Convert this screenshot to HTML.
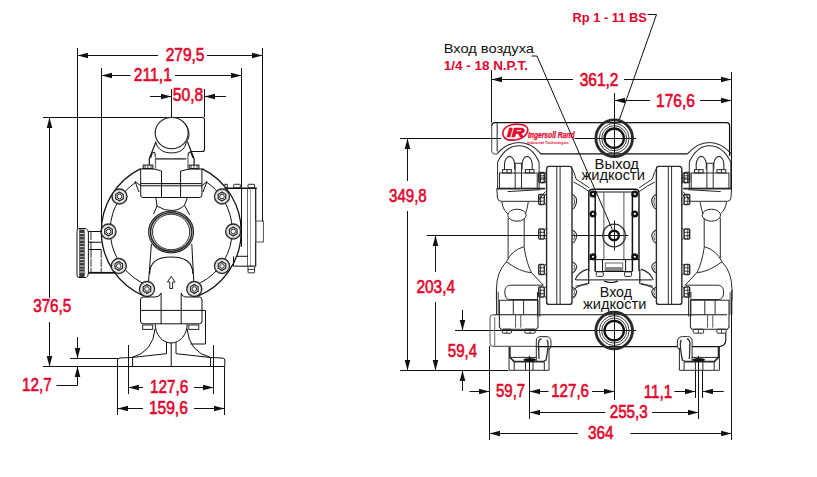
<!DOCTYPE html>
<html><head><meta charset="utf-8"><style>
html,body{margin:0;padding:0;background:#fff;overflow:hidden}
svg{display:block}
text{font-family:"Liberation Sans",sans-serif}
</style></head><body>
<svg width="817" height="477" viewBox="0 0 817 477" shape-rendering="auto">
<rect width="817" height="477" fill="#fff"/>
<line x1="77.5" y1="48" x2="77.5" y2="228.5" stroke="#111" stroke-width="1"/>
<line x1="262.5" y1="48" x2="262.5" y2="221.6" stroke="#111" stroke-width="1"/>
<line x1="77.5" y1="55.5" x2="158" y2="55.5" stroke="#111" stroke-width="1"/>
<line x1="207" y1="55.5" x2="262.5" y2="55.5" stroke="#111" stroke-width="1"/>
<polygon points="77.5,55.5 88.0,52.7 88.0,58.3" fill="#111"/>
<polygon points="262.5,55.5 252.0,52.7 252.0,58.3" fill="#111"/>
<text x="165.70000000000002" y="60.7" font-size="19.00" fill="#e2062c" stroke="#e2062c" stroke-width="0.65" textLength="38.8" lengthAdjust="spacingAndGlyphs">279,5</text>
<line x1="101.5" y1="68" x2="101.5" y2="226" stroke="#111" stroke-width="1"/>
<line x1="241.5" y1="68" x2="241.5" y2="247" stroke="#111" stroke-width="1"/>
<line x1="101.5" y1="75.5" x2="130.5" y2="75.5" stroke="#111" stroke-width="1"/>
<line x1="175" y1="75.5" x2="241.5" y2="75.5" stroke="#111" stroke-width="1"/>
<polygon points="101.5,75.5 112.0,72.7 112.0,78.3" fill="#111"/>
<polygon points="241.5,75.5 231.0,72.7 231.0,78.3" fill="#111"/>
<text x="133.8" y="80.9" font-size="19.00" fill="#e2062c" stroke="#e2062c" stroke-width="0.65" textLength="38.1" lengthAdjust="spacingAndGlyphs">211,1</text>
<line x1="171.5" y1="89" x2="171.5" y2="117" stroke="#111" stroke-width="1"/>
<line x1="204.5" y1="89" x2="204.5" y2="117" stroke="#111" stroke-width="1"/>
<line x1="150" y1="96.5" x2="171.5" y2="96.5" stroke="#111" stroke-width="1"/>
<line x1="204.5" y1="96.5" x2="226" y2="96.5" stroke="#111" stroke-width="1"/>
<polygon points="171.5,96.5 161.0,93.7 161.0,99.3" fill="#111"/>
<polygon points="204.5,96.5 215.0,93.7 215.0,99.3" fill="#111"/>
<text x="172.8" y="101" font-size="19.00" fill="#e2062c" stroke="#e2062c" stroke-width="0.65" textLength="30.4" lengthAdjust="spacingAndGlyphs">50,8</text>
<line x1="43" y1="117.5" x2="172" y2="117.5" stroke="#111" stroke-width="1"/>
<line x1="49.5" y1="117.5" x2="49.5" y2="298" stroke="#111" stroke-width="1"/>
<line x1="49.5" y1="322" x2="49.5" y2="366" stroke="#111" stroke-width="1"/>
<polygon points="49.5,117.5 46.7,128.0 52.3,128.0" fill="#111"/>
<polygon points="49.5,366.5 46.7,356.0 52.3,356.0" fill="#111"/>
<text x="33.199999999999996" y="312.3" font-size="19.00" fill="#e2062c" stroke="#e2062c" stroke-width="0.65" textLength="38.1" lengthAdjust="spacingAndGlyphs">376,5</text>
<line x1="43" y1="366.5" x2="118" y2="366.5" stroke="#111" stroke-width="1"/>
<line x1="70" y1="358.5" x2="118" y2="358.5" stroke="#111" stroke-width="1"/>
<line x1="77.5" y1="337" x2="77.5" y2="358.5" stroke="#111" stroke-width="1"/>
<polygon points="77.5,358.5 74.7,348.0 80.3,348.0" fill="#111"/>
<polyline points="77.5,367 77.5,385.5 56.5,385.5" stroke="#111" stroke-width="1" fill="none"/>
<polygon points="77.5,366.5 74.7,377.0 80.3,377.0" fill="#111"/>
<text x="22.0" y="390.6" font-size="19.00" fill="#e2062c" stroke="#e2062c" stroke-width="0.65" textLength="29.7" lengthAdjust="spacingAndGlyphs">12,7</text>
<line x1="128.5" y1="345" x2="128.5" y2="394" stroke="#111" stroke-width="1"/>
<line x1="213.5" y1="345" x2="213.5" y2="394" stroke="#111" stroke-width="1"/>
<line x1="128.5" y1="387.5" x2="143" y2="387.5" stroke="#111" stroke-width="1"/>
<line x1="194" y1="387.5" x2="213.5" y2="387.5" stroke="#111" stroke-width="1"/>
<polygon points="128.5,387.5 139.0,384.7 139.0,390.3" fill="#111"/>
<polygon points="213.5,387.5 203.0,384.7 203.0,390.3" fill="#111"/>
<text x="149.9" y="393.2" font-size="19.00" fill="#e2062c" stroke="#e2062c" stroke-width="0.65" textLength="38.4" lengthAdjust="spacingAndGlyphs">127,6</text>
<line x1="117.5" y1="367" x2="117.5" y2="415" stroke="#111" stroke-width="1"/>
<line x1="224.5" y1="367" x2="224.5" y2="415" stroke="#111" stroke-width="1"/>
<line x1="117.5" y1="408.5" x2="143" y2="408.5" stroke="#111" stroke-width="1"/>
<line x1="194" y1="408.5" x2="224.5" y2="408.5" stroke="#111" stroke-width="1"/>
<polygon points="117.5,408.5 128.0,405.7 128.0,411.3" fill="#111"/>
<polygon points="224.5,408.5 214.0,405.7 214.0,411.3" fill="#111"/>
<text x="148.9" y="413.8" font-size="19.00" fill="#e2062c" stroke="#e2062c" stroke-width="0.65" textLength="38.9" lengthAdjust="spacingAndGlyphs">159,6</text>
<text x="572.5" y="21.6" font-size="13" font-weight="bold" fill="#e2062c" textLength="74.4" lengthAdjust="spacingAndGlyphs">Rp 1 - 11 BS</text>
<polyline points="647.5,14.5 656.5,14.5 618.5,122" stroke="#111" stroke-width="1" fill="none"/>
<text x="443.7" y="52.6" font-size="13.5" fill="#111" textLength="90.3" lengthAdjust="spacingAndGlyphs">Вход воздуха</text>
<text x="443.7" y="69.5" font-size="13.5" font-weight="bold" fill="#e2062c" textLength="84.4" lengthAdjust="spacingAndGlyphs">1/4 - 18 N.P.T.</text>
<polyline points="531.4,56 537,56 612.4,229.5" stroke="#111" stroke-width="1" fill="none"/>
<line x1="491.5" y1="70" x2="491.5" y2="122.5" stroke="#111" stroke-width="1"/>
<line x1="731.5" y1="72" x2="731.5" y2="190" stroke="#111" stroke-width="1"/>
<line x1="731.5" y1="297" x2="731.5" y2="440" stroke="#111" stroke-width="1"/>
<line x1="491.5" y1="79.5" x2="573" y2="79.5" stroke="#111" stroke-width="1"/>
<line x1="624" y1="79.5" x2="731.5" y2="79.5" stroke="#111" stroke-width="1"/>
<polygon points="491.5,79.5 502.0,76.7 502.0,82.3" fill="#111"/>
<polygon points="731.5,79.5 721.0,76.7 721.0,82.3" fill="#111"/>
<text x="579.6999999999999" y="86.4" font-size="19.00" fill="#e2062c" stroke="#e2062c" stroke-width="0.65" textLength="38.8" lengthAdjust="spacingAndGlyphs">361,2</text>
<line x1="614.5" y1="93" x2="614.5" y2="152" stroke="#111" stroke-width="1"/>
<line x1="614.5" y1="312" x2="614.5" y2="400" stroke="#111" stroke-width="1"/>
<line x1="614.5" y1="100.5" x2="650" y2="100.5" stroke="#111" stroke-width="1"/>
<line x1="700" y1="100.5" x2="731.5" y2="100.5" stroke="#111" stroke-width="1"/>
<polygon points="614.5,100.5 625.0,97.7 625.0,103.3" fill="#111"/>
<polygon points="731.5,100.5 721.0,97.7 721.0,103.3" fill="#111"/>
<text x="656.0999999999999" y="107" font-size="19.00" fill="#e2062c" stroke="#e2062c" stroke-width="0.65" textLength="38.8" lengthAdjust="spacingAndGlyphs">176,6</text>
<line x1="400" y1="138.5" x2="501" y2="138.5" stroke="#111" stroke-width="1"/>
<line x1="574.5" y1="138.5" x2="636" y2="138.5" stroke="#111" stroke-width="1"/>
<line x1="407.5" y1="138.5" x2="407.5" y2="181" stroke="#111" stroke-width="1"/>
<line x1="407.5" y1="211" x2="407.5" y2="370" stroke="#111" stroke-width="1"/>
<polygon points="407.5,138.5 404.7,149.0 410.3,149.0" fill="#111"/>
<polygon points="407.5,370.5 404.7,360.0 410.3,360.0" fill="#111"/>
<text x="389.1" y="201.6" font-size="19.00" fill="#e2062c" stroke="#e2062c" stroke-width="0.65" textLength="37.6" lengthAdjust="spacingAndGlyphs">349,8</text>
<line x1="427" y1="235.5" x2="628.4" y2="235.5" stroke="#111" stroke-width="1"/>
<line x1="435.5" y1="235.5" x2="435.5" y2="272" stroke="#111" stroke-width="1"/>
<line x1="435.5" y1="302" x2="435.5" y2="370" stroke="#111" stroke-width="1"/>
<polygon points="435.5,235.5 432.7,246.0 438.3,246.0" fill="#111"/>
<polygon points="435.5,370.5 432.7,360.0 438.3,360.0" fill="#111"/>
<text x="416.40000000000003" y="292.9" font-size="19.00" fill="#e2062c" stroke="#e2062c" stroke-width="0.65" textLength="38.699999999999996" lengthAdjust="spacingAndGlyphs">203,4</text>
<line x1="400" y1="370.5" x2="508" y2="370.5" stroke="#111" stroke-width="1"/>
<line x1="455" y1="330.5" x2="636" y2="330.5" stroke="#111" stroke-width="1"/>
<line x1="462.5" y1="310" x2="462.5" y2="330.5" stroke="#111" stroke-width="1"/>
<polygon points="462.5,330.5 459.7,320.0 465.3,320.0" fill="#111"/>
<line x1="462.5" y1="371" x2="462.5" y2="391" stroke="#111" stroke-width="1"/>
<polygon points="462.5,370.5 459.7,381.0 465.3,381.0" fill="#111"/>
<text x="447.8" y="356.9" font-size="19.00" fill="#e2062c" stroke="#e2062c" stroke-width="0.65" textLength="29.299999999999997" lengthAdjust="spacingAndGlyphs">59,4</text>
<line x1="469.5" y1="391.5" x2="489.5" y2="391.5" stroke="#111" stroke-width="1"/>
<polygon points="489.5,391.5 479.0,388.7 479.0,394.3" fill="#111"/>
<line x1="489.5" y1="346" x2="489.5" y2="440" stroke="#111" stroke-width="1"/>
<text x="496.0" y="397.2" font-size="19.00" fill="#e2062c" stroke="#e2062c" stroke-width="0.65" textLength="29.099999999999998" lengthAdjust="spacingAndGlyphs">59,7</text>
<line x1="529.5" y1="356" x2="529.5" y2="419" stroke="#111" stroke-width="1"/>
<line x1="529.5" y1="391.5" x2="548.5" y2="391.5" stroke="#111" stroke-width="1"/>
<line x1="592" y1="391.5" x2="614.5" y2="391.5" stroke="#111" stroke-width="1"/>
<polygon points="529.5,391.5 540.0,388.7 540.0,394.3" fill="#111"/>
<polygon points="614.5,391.5 604.0,388.7 604.0,394.3" fill="#111"/>
<text x="551.1999999999999" y="397.2" font-size="19.00" fill="#e2062c" stroke="#e2062c" stroke-width="0.65" textLength="37.8" lengthAdjust="spacingAndGlyphs">127,6</text>
<line x1="529.5" y1="412.5" x2="605" y2="412.5" stroke="#111" stroke-width="1"/>
<line x1="652" y1="412.5" x2="698.5" y2="412.5" stroke="#111" stroke-width="1"/>
<polygon points="529.5,412.5 540.0,409.7 540.0,415.3" fill="#111"/>
<polygon points="698.5,412.5 688.0,409.7 688.0,415.3" fill="#111"/>
<line x1="698.5" y1="356" x2="698.5" y2="419" stroke="#111" stroke-width="1"/>
<text x="609.6999999999999" y="417.8" font-size="19.00" fill="#e2062c" stroke="#e2062c" stroke-width="0.65" textLength="38.0" lengthAdjust="spacingAndGlyphs">255,3</text>
<line x1="489.5" y1="433.5" x2="578" y2="433.5" stroke="#111" stroke-width="1"/>
<line x1="630.4" y1="433.5" x2="731.5" y2="433.5" stroke="#111" stroke-width="1"/>
<polygon points="489.5,433.5 500.0,430.7 500.0,436.3" fill="#111"/>
<polygon points="731.5,433.5 721.0,430.7 721.0,436.3" fill="#111"/>
<text x="588.0" y="439.3" font-size="19.00" fill="#e2062c" stroke="#e2062c" stroke-width="0.65" textLength="25.5" lengthAdjust="spacingAndGlyphs">364</text>
<line x1="695.5" y1="370" x2="695.5" y2="398" stroke="#111" stroke-width="1"/>
<line x1="702.5" y1="370" x2="702.5" y2="398" stroke="#111" stroke-width="1"/>
<line x1="674.4" y1="391.5" x2="695.5" y2="391.5" stroke="#111" stroke-width="1"/>
<line x1="702.5" y1="391.5" x2="723.8" y2="391.5" stroke="#111" stroke-width="1"/>
<polygon points="695.5,391.5 685.0,388.7 685.0,394.3" fill="#111"/>
<polygon points="702.5,391.5 713.0,388.7 713.0,394.3" fill="#111"/>
<text x="643.8" y="398.2" font-size="19.00" fill="#e2062c" stroke="#e2062c" stroke-width="0.65" textLength="28.4" lengthAdjust="spacingAndGlyphs">11,1</text>
<path d="M171,117.5 L202.5,117.5 Q204.5,117.5 204.5,120 L204.5,149.5 Q204.5,151.5 202.5,151.5 L189.9,151.5" stroke="#111" stroke-width="1.1" fill="none" />
<ellipse cx="171.7" cy="133" rx="16.5" ry="15.7" stroke="#2a2a2a" stroke-width="1.2" fill="#fff"/>
<path d="M155.8,142.4 C158,150 164,152.9 171.5,152.9 C179,152.9 185,150 186.2,142.4" stroke="#111" stroke-width="1" fill="none" />
<path d="M182.5,121.4 Q189.5,127 189,136 Q188.5,140 186.2,142.4" stroke="#111" stroke-width="0.9" fill="none" />
<polyline points="156,141.6 149.3,158.7 149.3,165.1" stroke="#111" stroke-width="1.2" fill="none"/>
<polyline points="187.4,141.6 194.1,158.7 194.1,165.1" stroke="#111" stroke-width="1.2" fill="none"/>
<path d="M150.7,158 Q152,152.2 153.9,152.2 Q155.3,152.5 155.3,156.5" stroke="#111" stroke-width="1.1" fill="none" />
<path d="M192.7,158 Q191.4,152.2 189.5,152.2 Q188.1,152.5 188.1,156.5" stroke="#111" stroke-width="1.1" fill="none" />
<line x1="155.5" y1="156.5" x2="155.5" y2="168.6" stroke="#777" stroke-width="1.4"/>
<line x1="187.9" y1="156.5" x2="187.9" y2="168.6" stroke="#777" stroke-width="1.4"/>
<line x1="155.7" y1="158.9" x2="186.3" y2="158.9" stroke="#111" stroke-width="1.2"/>
<rect x="143.2" y="165.1" width="9.6" height="3.9" rx="0" stroke="#2a2a2a" stroke-width="1.1" fill="#fff"/>
<line x1="145.0" y1="165.1" x2="145.0" y2="169" stroke="#111" stroke-width="0.8"/>
<line x1="147.79999999999998" y1="165.1" x2="147.79999999999998" y2="169" stroke="#111" stroke-width="0.8"/>
<line x1="151.0" y1="165.1" x2="151.0" y2="169" stroke="#111" stroke-width="0.8"/>
<rect x="189.3" y="165.1" width="9.6" height="3.9" rx="0" stroke="#2a2a2a" stroke-width="1.1" fill="#fff"/>
<line x1="191.10000000000002" y1="165.1" x2="191.10000000000002" y2="169" stroke="#111" stroke-width="0.8"/>
<line x1="193.9" y1="165.1" x2="193.9" y2="169" stroke="#111" stroke-width="0.8"/>
<line x1="197.10000000000002" y1="165.1" x2="197.10000000000002" y2="169" stroke="#111" stroke-width="0.8"/>
<path d="M140.7,168.6 A70,70 0 0 0 143.85,295.94 M197.42,296.40 A70,70 0 0 0 201.9,168.6" stroke="#111" stroke-width="1.3" fill="none" />
<path d="M136,182 A58.7,58.7 0 0 0 148.26,285.53 M193.19,285.93 A58.7,58.7 0 0 0 206.4,182" stroke="#111" stroke-width="1" fill="none" />
<path d="M140.7,169 L140.7,195 Q140.7,197.5 143,197.5 L199.5,197.5 Q201.9,197.5 201.9,195 L201.9,169" stroke="#111" stroke-width="1" fill="none" />
<path d="M140.7,169 Q150,167 161.5,171 L161.5,197.5" stroke="#111" stroke-width="1" fill="none" />
<path d="M201.9,169 Q192,167 180.6,171 L180.6,197.5" stroke="#111" stroke-width="1" fill="none" />
<line x1="161.5" y1="183.6" x2="180.6" y2="183.6" stroke="#111" stroke-width="1"/>
<path d="M135,181.5 L140.7,185.8 L201.9,185.8 L207,181.5" stroke="#111" stroke-width="1" fill="none" />
<line x1="140.7" y1="183.6" x2="201.9" y2="183.6" stroke="#111" stroke-width="1"/>
<path d="M135,181.5 L139,192 M207,181.5 L203,192" stroke="#111" stroke-width="1" fill="none" />
<polyline points="155.8,197.6 157,206 153.6,214" stroke="#111" stroke-width="1" fill="none"/>
<polyline points="187.4,197.6 184.5,205.3 189.6,214.8" stroke="#111" stroke-width="1" fill="none"/>
<path d="M157,206 Q165,211 171.2,210.4 Q178,211 184.5,205.3" stroke="#111" stroke-width="1" fill="none" />
<ellipse cx="171.1" cy="232" rx="22.4" ry="20.8" stroke="#2a2a2a" stroke-width="1.3" fill="none"/>
<ellipse cx="171.1" cy="232" rx="20.6" ry="19.3" stroke="#2a2a2a" stroke-width="1.6" fill="none"/>
<ellipse cx="171.1" cy="232" rx="18.6" ry="17.8" stroke="#2a2a2a" stroke-width="1" fill="none"/>
<path d="M151.4,244 L148.5,282 M191.8,244 L193.8,282" stroke="#111" stroke-width="1" fill="none" />
<path d="M149.6,274 C149.6,260 160,257 171.2,257 C182,257 193,260 192.9,274" stroke="#111" stroke-width="1.2" fill="none" />
<path d="M169.8,288.5 L169.8,282 L167.4,282 L171.2,276.3 L175,282 L172.6,282 L172.6,288.5 Z" stroke="#111" stroke-width="0.9" fill="none" />
<circle cx="119.5" cy="196.5" r="7.5" stroke="#2a2a2a" stroke-width="1.4" fill="#fff"/>
<polygon points="123.3,198.7 119.5,200.9 115.7,198.7 115.7,194.3 119.5,192.1 123.3,194.3" stroke="#2a2a2a" stroke-width="1.3" fill="none"/>
<circle cx="119.5" cy="196.5" r="2.3" stroke="#2a2a2a" stroke-width="1" fill="none"/>
<circle cx="119.5" cy="196.5" r="6.2" stroke="#999" stroke-width="0.5" fill="none"/>
<circle cx="108.5" cy="231.5" r="7.5" stroke="#2a2a2a" stroke-width="1.4" fill="#fff"/>
<polygon points="112.3,233.7 108.5,235.9 104.7,233.7 104.7,229.3 108.5,227.1 112.3,229.3" stroke="#2a2a2a" stroke-width="1.3" fill="none"/>
<circle cx="108.5" cy="231.5" r="2.3" stroke="#2a2a2a" stroke-width="1" fill="none"/>
<circle cx="108.5" cy="231.5" r="6.2" stroke="#999" stroke-width="0.5" fill="none"/>
<circle cx="118.8" cy="266" r="7.5" stroke="#2a2a2a" stroke-width="1.4" fill="#fff"/>
<polygon points="122.6,268.2 118.8,270.4 115.0,268.2 115.0,263.8 118.8,261.6 122.6,263.8" stroke="#2a2a2a" stroke-width="1.3" fill="none"/>
<circle cx="118.8" cy="266" r="2.3" stroke="#2a2a2a" stroke-width="1" fill="none"/>
<circle cx="118.8" cy="266" r="6.2" stroke="#999" stroke-width="0.5" fill="none"/>
<circle cx="147" cy="289" r="7.5" stroke="#2a2a2a" stroke-width="1.4" fill="#fff"/>
<polygon points="150.8,291.2 147.0,293.4 143.2,291.2 143.2,286.8 147.0,284.6 150.8,286.8" stroke="#2a2a2a" stroke-width="1.3" fill="none"/>
<circle cx="147" cy="289" r="2.3" stroke="#2a2a2a" stroke-width="1" fill="none"/>
<circle cx="147" cy="289" r="6.2" stroke="#999" stroke-width="0.5" fill="none"/>
<circle cx="194.3" cy="289" r="7.5" stroke="#2a2a2a" stroke-width="1.4" fill="#fff"/>
<polygon points="198.1,291.2 194.3,293.4 190.5,291.2 190.5,286.8 194.3,284.6 198.1,286.8" stroke="#2a2a2a" stroke-width="1.3" fill="none"/>
<circle cx="194.3" cy="289" r="2.3" stroke="#2a2a2a" stroke-width="1" fill="none"/>
<circle cx="194.3" cy="289" r="6.2" stroke="#999" stroke-width="0.5" fill="none"/>
<circle cx="222" cy="266" r="7.5" stroke="#2a2a2a" stroke-width="1.4" fill="#fff"/>
<polygon points="225.8,268.2 222.0,270.4 218.2,268.2 218.2,263.8 222.0,261.6 225.8,263.8" stroke="#2a2a2a" stroke-width="1.3" fill="none"/>
<circle cx="222" cy="266" r="2.3" stroke="#2a2a2a" stroke-width="1" fill="none"/>
<circle cx="222" cy="266" r="6.2" stroke="#999" stroke-width="0.5" fill="none"/>
<circle cx="233.2" cy="231.5" r="7.5" stroke="#2a2a2a" stroke-width="1.4" fill="#fff"/>
<polygon points="237.0,233.7 233.2,235.9 229.4,233.7 229.4,229.3 233.2,227.1 237.0,229.3" stroke="#2a2a2a" stroke-width="1.3" fill="none"/>
<circle cx="233.2" cy="231.5" r="2.3" stroke="#2a2a2a" stroke-width="1" fill="none"/>
<circle cx="233.2" cy="231.5" r="6.2" stroke="#999" stroke-width="0.5" fill="none"/>
<circle cx="222" cy="196.5" r="7.5" stroke="#2a2a2a" stroke-width="1.4" fill="#fff"/>
<polygon points="225.8,198.7 222.0,200.9 218.2,198.7 218.2,194.3 222.0,192.1 225.8,194.3" stroke="#2a2a2a" stroke-width="1.3" fill="none"/>
<circle cx="222" cy="196.5" r="2.3" stroke="#2a2a2a" stroke-width="1" fill="none"/>
<circle cx="222" cy="196.5" r="6.2" stroke="#999" stroke-width="0.5" fill="none"/>
<path d="M161.1,293 Q160,297 155,297 L143,297 Q140.5,297 140.5,300 L140.5,321 Q140.5,323.8 143,323.8 L199.5,323.8 Q202,323.8 202,321 L202,300 Q202,297 199.5,297 L187,297 Q182,297 181.2,293" stroke="#111" stroke-width="1" fill="none" />
<line x1="161.1" y1="293" x2="161.1" y2="324" stroke="#111" stroke-width="1"/>
<line x1="181.2" y1="293" x2="181.2" y2="324" stroke="#111" stroke-width="1"/>
<line x1="140.5" y1="310.4" x2="202" y2="310.4" stroke="#111" stroke-width="1"/>
<path d="M202,310.4 L205.5,310.4 L205.5,344 L190.4,344" stroke="#111" stroke-width="1" fill="none" />
<rect x="142.7" y="325" width="10" height="4.4" rx="0" stroke="#2a2a2a" stroke-width="1" fill="none"/>
<rect x="188.8" y="325" width="10" height="4.4" rx="0" stroke="#2a2a2a" stroke-width="1" fill="none"/>
<path d="M155.2,324 A16,19 0 0 0 187.2,324" stroke="#111" stroke-width="1" fill="none" />
<path d="M155.2,328.5 Q153,352 131.8,357.5" stroke="#111" stroke-width="1" fill="none" />
<path d="M187,328.5 Q189,352 210.6,357.5" stroke="#111" stroke-width="1" fill="none" />
<path d="M131.8,357.5 L166.5,353.7 L166.5,342 M210.6,357.5 L176,353.7 L176,342" stroke="#111" stroke-width="1" fill="none" />
<line x1="171.2" y1="342.8" x2="171.2" y2="366.5" stroke="#111" stroke-width="1"/>
<path d="M117.5,366.5 L117.5,360 Q117.5,358 120,358 L131.8,357.5 M224.8,366.5 L224.8,360 Q224.8,358 222,358 L210.6,357.5" stroke="#111" stroke-width="1" fill="none" />
<line x1="117.5" y1="366.5" x2="224.8" y2="366.5" stroke="#111" stroke-width="1"/>
<line x1="132.6" y1="357.5" x2="132.6" y2="366.5" stroke="#111" stroke-width="1"/>
<line x1="210.6" y1="357.5" x2="210.6" y2="366.5" stroke="#111" stroke-width="1"/>
<path d="M79,228.5 L86,228.5 Q88.4,230 88.4,233 L88.4,273 Q88.4,276 86,277.5 L79,277.5 Q77,277.5 77,275 L77,231 Q77,228.5 79,228.5 Z" stroke="#111" stroke-width="1" fill="#fff" />
<rect x="79.2" y="229.5" width="5.2" height="47.5" rx="0" stroke="none" stroke-width="0" fill="#3a3a3a"/>
<rect x="79.6" y="233" width="4.4" height="1.1" rx="0" stroke="none" stroke-width="0" fill="#d0d0d0"/>
<rect x="79.6" y="236" width="4.4" height="1.1" rx="0" stroke="none" stroke-width="0" fill="#9a9a9a"/>
<rect x="79.6" y="239.5" width="4.4" height="1.1" rx="0" stroke="none" stroke-width="0" fill="#d0d0d0"/>
<rect x="79.6" y="243" width="4.4" height="1.1" rx="0" stroke="none" stroke-width="0" fill="#9a9a9a"/>
<rect x="79.6" y="246" width="4.4" height="1.1" rx="0" stroke="none" stroke-width="0" fill="#d0d0d0"/>
<rect x="79.6" y="249" width="4.4" height="1.1" rx="0" stroke="none" stroke-width="0" fill="#9a9a9a"/>
<rect x="79.6" y="252.5" width="4.4" height="1.1" rx="0" stroke="none" stroke-width="0" fill="#d0d0d0"/>
<rect x="79.6" y="256" width="4.4" height="1.1" rx="0" stroke="none" stroke-width="0" fill="#9a9a9a"/>
<rect x="79.6" y="259" width="4.4" height="1.1" rx="0" stroke="none" stroke-width="0" fill="#d0d0d0"/>
<rect x="79.6" y="262" width="4.4" height="1.1" rx="0" stroke="none" stroke-width="0" fill="#9a9a9a"/>
<rect x="79.6" y="265.5" width="4.4" height="1.1" rx="0" stroke="none" stroke-width="0" fill="#d0d0d0"/>
<rect x="79.6" y="268.5" width="4.4" height="1.1" rx="0" stroke="none" stroke-width="0" fill="#9a9a9a"/>
<rect x="79.6" y="271.5" width="4.4" height="1.1" rx="0" stroke="none" stroke-width="0" fill="#d0d0d0"/>
<line x1="84.6" y1="230" x2="84.6" y2="276" stroke="#777" stroke-width="1"/>
<line x1="88.4" y1="231.5" x2="102" y2="231.5" stroke="#111" stroke-width="1"/>
<path d="M88.4,242.2 L101.5,242.2 M88.4,249.5 L101.5,249.5" stroke="#111" stroke-width="1.1" fill="none" />
<line x1="91" y1="232" x2="91" y2="272" stroke="#2a2a2a" stroke-width="1" stroke-dasharray="8 1"/>
<line x1="101.2" y1="250" x2="101.2" y2="272" stroke="#2a2a2a" stroke-width="1" stroke-dasharray="8 1"/>
<line x1="88.4" y1="272.8" x2="115.4" y2="272.8" stroke="#111" stroke-width="1.8"/>
<rect x="224.9" y="184.3" width="2.3" height="3.5" rx="0" stroke="#2a2a2a" stroke-width="1" fill="#fff"/>
<rect x="233.7" y="184.3" width="6.6" height="3.5" rx="0.5" stroke="#2a2a2a" stroke-width="1" fill="#fff"/>
<rect x="248" y="184.3" width="6.6" height="3.5" rx="0.5" stroke="#2a2a2a" stroke-width="1" fill="#fff"/>
<line x1="224.9" y1="188.3" x2="256.8" y2="188.3" stroke="#111" stroke-width="1.5"/>
<line x1="247.5" y1="188.3" x2="247.5" y2="266" stroke="#666" stroke-width="1"/>
<line x1="250.5" y1="188.3" x2="250.5" y2="266" stroke="#888" stroke-width="0.8"/>
<line x1="255.7" y1="188.3" x2="255.7" y2="266.2" stroke="#111" stroke-width="1.2"/>
<rect x="255.7" y="221" width="7.7" height="21" rx="0" stroke="#555" stroke-width="1" fill="none"/>
<path d="M235.9,256.3 L248,256.3 M233.5,256.3 L233.5,266.2 L255.7,266.2" stroke="#111" stroke-width="1" fill="none" />
<rect x="248" y="266.2" width="6.6" height="6.6" rx="0.5" stroke="#2a2a2a" stroke-width="1" fill="#fff"/>
<line x1="248" y1="269.5" x2="254.6" y2="269.5" stroke="#111" stroke-width="0.8"/>
<path d="M491.7,126 Q491.7,122.6 495,122.6 L726.5,122.6 Q729.6,122.6 729.6,126 L729.6,156" stroke="#111" stroke-width="1.3" fill="none" />
<path d="M491.7,126 L491.7,151 Q492,154.2 497,154.2" stroke="#555" stroke-width="1.1" fill="none" />
<line x1="497.2" y1="123" x2="497.2" y2="151.4" stroke="#555" stroke-width="1.3"/>
<line x1="540.3" y1="153.9" x2="687.5" y2="153.9" stroke="#111" stroke-width="1.2"/>
<path d="M504,137 C500,130 507,124.5 516,124.3 C525,124 529,127 527.5,131.5 C526,137 519,140.3 511,140.2 C507,140.1 505,139 504,137 Z" stroke="#e2062c" stroke-width="1.6" fill="none"/>
<path d="M504.5,137.5 C506,140 510,140.5 514,140" stroke="#e2062c" stroke-width="1.4" fill="none"/>
<text x="507" y="137.3" font-size="12.5" font-weight="bold" font-style="italic" fill="#e2062c" stroke="#e2062c" stroke-width="0.7" textLength="17.5" lengthAdjust="spacingAndGlyphs">IR</text>
<text x="528" y="137.5" font-size="8.3" stroke="#e2062c" stroke-width="0.25" font-weight="bold" font-style="italic" fill="#e2062c" textLength="46.5" lengthAdjust="spacingAndGlyphs">Ingersoll Rand</text>
<text x="527.3" y="143.6" font-size="4.2" font-weight="bold" font-style="italic" fill="#e2062c" textLength="41.5" lengthAdjust="spacingAndGlyphs">Industrial Technologies</text>
<path d="M493.5,314.8 L727,314.8 M536.3,346.6 L551,346.6 M551,346.6 L678,346.6 M692,346.6 L719,346.6 Q725.8,346 725.8,340 L725.8,333" stroke="#111" stroke-width="1.1" fill="none" />
<path d="M496,314.8 L493.5,314.8 Q490,314.8 490,318.5 L490,342.5 Q490,346.4 493.5,346.4 L536.3,346.4" stroke="#666" stroke-width="1.1" fill="none" />
<line x1="494.7" y1="317" x2="494.7" y2="346" stroke="#777" stroke-width="1.1"/>
<g><path d="M497,153.8 C503,147 510,142.5 519,142.5 C528,142.5 535,147 541,153.8" stroke="#2a2a2a" stroke-width="1.2" fill="none"/>
<path d="M497.6,162 C502,153 509,145.7 519,145.7 C529,145.7 535,153 539.1,162" stroke="#2a2a2a" stroke-width="1.1" fill="none"/>
<line x1="497.6" y1="162" x2="497.6" y2="189" stroke="#2a2a2a" stroke-width="1"/>
<line x1="539.1" y1="162" x2="539.1" y2="189" stroke="#2a2a2a" stroke-width="1"/>
<path d="M504.5,169.6 L504.5,164 C504.5,160 507,156.4 509.5,156.4 C512,156.4 514.6,160 514.6,164 L514.6,169.6" stroke="#2a2a2a" stroke-width="1.1" fill="none"/>
<path d="M522.1,169.6 L522.1,164 C522.1,160 524.6,156.4 527.1,156.4 C529.6,156.4 532.2,160 532.2,164 L532.2,169.6" stroke="#2a2a2a" stroke-width="1.1" fill="none"/>
<line x1="514.6" y1="163.3" x2="522.1" y2="163.3" stroke="#2a2a2a" stroke-width="1"/>
<rect x="502.6" y="169.6" width="8.8" height="3.4" rx="0" stroke="#2a2a2a" stroke-width="1" fill="none"/>
<rect x="525.3" y="169.6" width="8.7" height="3.4" rx="0" stroke="#2a2a2a" stroke-width="1" fill="none"/>
<line x1="507" y1="169.6" x2="507" y2="173" stroke="#2a2a2a" stroke-width="1"/>
<line x1="529.6" y1="169.6" x2="529.6" y2="173" stroke="#2a2a2a" stroke-width="1"/>
<rect x="499.5" y="173" width="37.7" height="15.4" rx="0" stroke="#2a2a2a" stroke-width="1" fill="none"/>
<line x1="515.2" y1="163.3" x2="515.2" y2="188.4" stroke="#2a2a2a" stroke-width="1"/>
<line x1="521.5" y1="163.3" x2="521.5" y2="188.4" stroke="#2a2a2a" stroke-width="1"/>
<line x1="496.8" y1="188.6" x2="545.2" y2="188.6" stroke="#2a2a2a" stroke-width="1.6"/>
<path d="M496.8,188.8 L497.5,198 Q498,201.3 501,201.3 L537.9,201.3 L545.2,191.7" stroke="#2a2a2a" stroke-width="1" fill="none"/>
<path d="M507.6,191.6 L540.4,189.7" stroke="#2a2a2a" stroke-width="1" fill="none"/>
<rect x="540.4" y="173.3" width="5.6" height="9.5" rx="1.5" stroke="#2a2a2a" stroke-width="1" fill="none"/>
<line x1="540.4" y1="178" x2="546" y2="178" stroke="#2a2a2a" stroke-width="1"/>
<path d="M501.9,202 Q503,210 507.8,213.7" stroke="#2a2a2a" stroke-width="1" fill="none"/>
<path d="M528.3,202 Q527,210 525.4,213.7" stroke="#2a2a2a" stroke-width="1" fill="none"/>
<ellipse cx="517" cy="215.2" rx="9.2" ry="6" stroke="#2a2a2a" stroke-width="1" fill="none"/>
<line x1="508.1" y1="218" x2="508.1" y2="258.4" stroke="#2a2a2a" stroke-width="1"/>
<line x1="524.2" y1="218" x2="524.2" y2="246.7" stroke="#2a2a2a" stroke-width="1"/>
<path d="M524,246.7 Q512,250 506.4,261.8 Q496.4,272 496.4,290 L496.4,300" stroke="#2a2a2a" stroke-width="1" fill="none"/>
<path d="M524,246.7 Q527,265 531.6,272.7 L543.3,285.2" stroke="#2a2a2a" stroke-width="1" fill="none"/>
<path d="M506.4,261.8 Q520,272 531.6,272.7" stroke="#2a2a2a" stroke-width="1" fill="none"/>
<path d="M509.8,285.2 L543.3,285.2 M509.8,285.2 Q504.8,286 504.8,292 Q504.8,299.5 509.8,299.5 L537,299.5" stroke="#2a2a2a" stroke-width="1" fill="none"/>
<path d="M499.4,300.2 L538,300.2 L538,327 L536.5,329.2 L501,329.2 L499.4,327 Z" stroke="#2a2a2a" stroke-width="1.1" fill="none"/>
<line x1="513.3" y1="300.2" x2="513.3" y2="314.5" stroke="#2a2a2a" stroke-width="1"/>
<line x1="523.6" y1="300.2" x2="523.6" y2="314.5" stroke="#2a2a2a" stroke-width="1"/>
<line x1="515.6" y1="314.5" x2="515.6" y2="327.6" stroke="#555" stroke-width="1"/>
<line x1="520.8" y1="314.5" x2="520.8" y2="327.6" stroke="#555" stroke-width="1"/>
<line x1="496.6" y1="290" x2="496.6" y2="314.5" stroke="#2a2a2a" stroke-width="1.1"/>
<line x1="498.3" y1="292" x2="498.3" y2="314.5" stroke="#2a2a2a" stroke-width="0.8"/>
<line x1="537.5" y1="292" x2="537.5" y2="316.5" stroke="#2a2a2a" stroke-width="1"/>
<line x1="539.8" y1="292" x2="539.8" y2="316.5" stroke="#2a2a2a" stroke-width="1"/>
<rect x="502.3" y="329.2" width="9.2" height="4" rx="1" stroke="#2a2a2a" stroke-width="1" fill="none"/>
<rect x="524.8" y="329.2" width="10.4" height="4" rx="1" stroke="#2a2a2a" stroke-width="1" fill="none"/>
<line x1="506.9" y1="329.2" x2="506.9" y2="333.2" stroke="#2a2a2a" stroke-width="0.8"/>
<line x1="530" y1="329.2" x2="530" y2="333.2" stroke="#2a2a2a" stroke-width="0.8"/>
<rect x="546.6" y="166.4" width="25.4" height="138" rx="2.5" stroke="#2a2a2a" stroke-width="1.4" fill="#fff"/>
<line x1="556.8" y1="166.4" x2="556.8" y2="304.4" stroke="#2a2a2a" stroke-width="1"/>
<line x1="560.1" y1="166.4" x2="560.1" y2="304.4" stroke="#2a2a2a" stroke-width="1"/>
<rect x="538.7" y="172.5" width="5.6" height="10" rx="1" stroke="#2a2a2a" stroke-width="1.4" fill="none"/>
<line x1="538.7" y1="175.8" x2="544.3" y2="175.8" stroke="#2a2a2a" stroke-width="0.9"/>
<line x1="538.7" y1="179.2" x2="544.3" y2="179.2" stroke="#2a2a2a" stroke-width="0.9"/>
<line x1="540.6" y1="173.0" x2="540.6" y2="182.0" stroke="#2a2a2a" stroke-width="0.9"/>
<path d="M544.3,174.0 L546.4,171.5 M544.3,181.0 L546.4,183.5" stroke="#2a2a2a" stroke-width="0.9" fill="none"/>
<rect x="538.7" y="194.5" width="5.6" height="10" rx="1" stroke="#2a2a2a" stroke-width="1.4" fill="none"/>
<line x1="538.7" y1="197.8" x2="544.3" y2="197.8" stroke="#2a2a2a" stroke-width="0.9"/>
<line x1="538.7" y1="201.2" x2="544.3" y2="201.2" stroke="#2a2a2a" stroke-width="0.9"/>
<line x1="540.6" y1="195.0" x2="540.6" y2="204.0" stroke="#2a2a2a" stroke-width="0.9"/>
<path d="M544.3,196.0 L546.4,193.5 M544.3,203.0 L546.4,205.5" stroke="#2a2a2a" stroke-width="0.9" fill="none"/>
<rect x="538.7" y="229" width="5.6" height="10" rx="1" stroke="#2a2a2a" stroke-width="1.4" fill="none"/>
<line x1="538.7" y1="232.3" x2="544.3" y2="232.3" stroke="#2a2a2a" stroke-width="0.9"/>
<line x1="538.7" y1="235.7" x2="544.3" y2="235.7" stroke="#2a2a2a" stroke-width="0.9"/>
<line x1="540.6" y1="229.5" x2="540.6" y2="238.5" stroke="#2a2a2a" stroke-width="0.9"/>
<path d="M544.3,230.5 L546.4,228 M544.3,237.5 L546.4,240" stroke="#2a2a2a" stroke-width="0.9" fill="none"/>
<rect x="538.7" y="264.5" width="5.6" height="10" rx="1" stroke="#2a2a2a" stroke-width="1.4" fill="none"/>
<line x1="538.7" y1="267.8" x2="544.3" y2="267.8" stroke="#2a2a2a" stroke-width="0.9"/>
<line x1="538.7" y1="271.2" x2="544.3" y2="271.2" stroke="#2a2a2a" stroke-width="0.9"/>
<line x1="540.6" y1="265.0" x2="540.6" y2="274.0" stroke="#2a2a2a" stroke-width="0.9"/>
<path d="M544.3,266.0 L546.4,263.5 M544.3,273.0 L546.4,275.5" stroke="#2a2a2a" stroke-width="0.9" fill="none"/>
<rect x="538.7" y="287" width="5.6" height="10" rx="1" stroke="#2a2a2a" stroke-width="1.4" fill="none"/>
<line x1="538.7" y1="290.3" x2="544.3" y2="290.3" stroke="#2a2a2a" stroke-width="0.9"/>
<line x1="538.7" y1="293.7" x2="544.3" y2="293.7" stroke="#2a2a2a" stroke-width="0.9"/>
<line x1="540.6" y1="287.5" x2="540.6" y2="296.5" stroke="#2a2a2a" stroke-width="0.9"/>
<path d="M544.3,288.5 L546.4,286 M544.3,295.5 L546.4,298" stroke="#2a2a2a" stroke-width="0.9" fill="none"/>
<path d="M571.6,168 Q574.5,172 576,179 L589.2,187.8" stroke="#2a2a2a" stroke-width="1" fill="none"/>
<path d="M573.5,182 Q580,185 589.2,191.5" stroke="#2a2a2a" stroke-width="1" fill="none"/>
<path d="M572.5,194.5 Q577.5,197.5 576.5,201.75 Q576,207 572.5,209" stroke="#2a2a2a" stroke-width="1.1" fill="none"/>
<path d="M573.8,197.5 Q575.5,201.75 573.8,206" stroke="#2a2a2a" stroke-width="0.8" fill="none"/>
<path d="M572.5,230 Q577.5,233 576.5,236.5 Q576,241 572.5,243" stroke="#2a2a2a" stroke-width="1.1" fill="none"/>
<path d="M573.8,233 Q575.5,236.5 573.8,240" stroke="#2a2a2a" stroke-width="0.8" fill="none"/>
<path d="M572.5,262 Q577.5,265 576.5,267.5 Q576,271 572.5,273" stroke="#2a2a2a" stroke-width="1.1" fill="none"/>
<path d="M573.8,265 Q575.5,267.5 573.8,270" stroke="#2a2a2a" stroke-width="0.8" fill="none"/>
<path d="M572.5,287.2 Q577.5,290.2 576.5,292.6 Q576,296 572.5,298" stroke="#2a2a2a" stroke-width="1.1" fill="none"/>
<path d="M573.8,290.2 Q575.5,292.6 573.8,295" stroke="#2a2a2a" stroke-width="0.8" fill="none"/>
<path d="M575.1,280 Q578,272 587.7,269.1" stroke="#2a2a2a" stroke-width="1.1" fill="none"/>
<path d="M575.5,286.3 L587.7,283.4" stroke="#2a2a2a" stroke-width="1" fill="none"/>
<path d="M573.4,289.7 Q578,285.5 587.7,284.2" stroke="#2a2a2a" stroke-width="1" fill="none"/>
<line x1="588.6" y1="270" x2="588.6" y2="284" stroke="#2a2a2a" stroke-width="1.3"/>
<path d="M509,346.6 L509,370.3 L549,370.3 L549,348" stroke="#2a2a2a" stroke-width="1" fill="none"/>
<path d="M509.9,347 L509.9,357.4 L514.2,361.6 L544.3,361.6" stroke="#2a2a2a" stroke-width="1.6" fill="none"/>
<path d="M509.9,357.4 L536.8,357.4" stroke="#2a2a2a" stroke-width="1" fill="none"/>
<line x1="514.2" y1="361.6" x2="514.2" y2="370" stroke="#2a2a2a" stroke-width="1"/>
<line x1="525.5" y1="361.6" x2="525.5" y2="370" stroke="#2a2a2a" stroke-width="1"/>
<line x1="533" y1="361.6" x2="533" y2="370" stroke="#2a2a2a" stroke-width="1"/>
<line x1="544.3" y1="361.6" x2="544.3" y2="370" stroke="#2a2a2a" stroke-width="1"/>
<path d="M536.3,361.6 L536.3,341 Q536.3,336.6 541,336.6 L546,336.6 Q551,336.6 551,342 L551,347 L549,350" stroke="#2a2a2a" stroke-width="1" fill="none"/>
<path d="M539,359 L538.5,343 Q539,339 541.5,339 M547,340 Q549.5,343 546,360 L544,361" stroke="#2a2a2a" stroke-width="1.3" fill="none"/>
<ellipse cx="529.7" cy="359.7" rx="6.3" ry="1.8" fill="#111"/></g>
<g transform="translate(1228.4,0) scale(-1,1)"><path d="M497,153.8 C503,147 510,142.5 519,142.5 C528,142.5 535,147 541,153.8" stroke="#2a2a2a" stroke-width="1.2" fill="none"/>
<path d="M497.6,162 C502,153 509,145.7 519,145.7 C529,145.7 535,153 539.1,162" stroke="#2a2a2a" stroke-width="1.1" fill="none"/>
<line x1="497.6" y1="162" x2="497.6" y2="189" stroke="#2a2a2a" stroke-width="1"/>
<line x1="539.1" y1="162" x2="539.1" y2="189" stroke="#2a2a2a" stroke-width="1"/>
<path d="M504.5,169.6 L504.5,164 C504.5,160 507,156.4 509.5,156.4 C512,156.4 514.6,160 514.6,164 L514.6,169.6" stroke="#2a2a2a" stroke-width="1.1" fill="none"/>
<path d="M522.1,169.6 L522.1,164 C522.1,160 524.6,156.4 527.1,156.4 C529.6,156.4 532.2,160 532.2,164 L532.2,169.6" stroke="#2a2a2a" stroke-width="1.1" fill="none"/>
<line x1="514.6" y1="163.3" x2="522.1" y2="163.3" stroke="#2a2a2a" stroke-width="1"/>
<rect x="502.6" y="169.6" width="8.8" height="3.4" rx="0" stroke="#2a2a2a" stroke-width="1" fill="none"/>
<rect x="525.3" y="169.6" width="8.7" height="3.4" rx="0" stroke="#2a2a2a" stroke-width="1" fill="none"/>
<line x1="507" y1="169.6" x2="507" y2="173" stroke="#2a2a2a" stroke-width="1"/>
<line x1="529.6" y1="169.6" x2="529.6" y2="173" stroke="#2a2a2a" stroke-width="1"/>
<rect x="499.5" y="173" width="37.7" height="15.4" rx="0" stroke="#2a2a2a" stroke-width="1" fill="none"/>
<line x1="515.2" y1="163.3" x2="515.2" y2="188.4" stroke="#2a2a2a" stroke-width="1"/>
<line x1="521.5" y1="163.3" x2="521.5" y2="188.4" stroke="#2a2a2a" stroke-width="1"/>
<line x1="496.8" y1="188.6" x2="545.2" y2="188.6" stroke="#2a2a2a" stroke-width="1.6"/>
<path d="M496.8,188.8 L497.5,198 Q498,201.3 501,201.3 L537.9,201.3 L545.2,191.7" stroke="#2a2a2a" stroke-width="1" fill="none"/>
<path d="M507.6,191.6 L540.4,189.7" stroke="#2a2a2a" stroke-width="1" fill="none"/>
<rect x="540.4" y="173.3" width="5.6" height="9.5" rx="1.5" stroke="#2a2a2a" stroke-width="1" fill="none"/>
<line x1="540.4" y1="178" x2="546" y2="178" stroke="#2a2a2a" stroke-width="1"/>
<path d="M501.9,202 Q503,210 507.8,213.7" stroke="#2a2a2a" stroke-width="1" fill="none"/>
<path d="M528.3,202 Q527,210 525.4,213.7" stroke="#2a2a2a" stroke-width="1" fill="none"/>
<ellipse cx="517" cy="215.2" rx="9.2" ry="6" stroke="#2a2a2a" stroke-width="1" fill="none"/>
<line x1="508.1" y1="218" x2="508.1" y2="258.4" stroke="#2a2a2a" stroke-width="1"/>
<line x1="524.2" y1="218" x2="524.2" y2="246.7" stroke="#2a2a2a" stroke-width="1"/>
<path d="M524,246.7 Q512,250 506.4,261.8 Q496.4,272 496.4,290 L496.4,300" stroke="#2a2a2a" stroke-width="1" fill="none"/>
<path d="M524,246.7 Q527,265 531.6,272.7 L543.3,285.2" stroke="#2a2a2a" stroke-width="1" fill="none"/>
<path d="M506.4,261.8 Q520,272 531.6,272.7" stroke="#2a2a2a" stroke-width="1" fill="none"/>
<path d="M509.8,285.2 L543.3,285.2 M509.8,285.2 Q504.8,286 504.8,292 Q504.8,299.5 509.8,299.5 L537,299.5" stroke="#2a2a2a" stroke-width="1" fill="none"/>
<path d="M499.4,300.2 L538,300.2 L538,327 L536.5,329.2 L501,329.2 L499.4,327 Z" stroke="#2a2a2a" stroke-width="1.1" fill="none"/>
<line x1="513.3" y1="300.2" x2="513.3" y2="314.5" stroke="#2a2a2a" stroke-width="1"/>
<line x1="523.6" y1="300.2" x2="523.6" y2="314.5" stroke="#2a2a2a" stroke-width="1"/>
<line x1="515.6" y1="314.5" x2="515.6" y2="327.6" stroke="#555" stroke-width="1"/>
<line x1="520.8" y1="314.5" x2="520.8" y2="327.6" stroke="#555" stroke-width="1"/>
<line x1="496.6" y1="290" x2="496.6" y2="314.5" stroke="#2a2a2a" stroke-width="1.1"/>
<line x1="498.3" y1="292" x2="498.3" y2="314.5" stroke="#2a2a2a" stroke-width="0.8"/>
<line x1="537.5" y1="292" x2="537.5" y2="316.5" stroke="#2a2a2a" stroke-width="1"/>
<line x1="539.8" y1="292" x2="539.8" y2="316.5" stroke="#2a2a2a" stroke-width="1"/>
<rect x="502.3" y="329.2" width="9.2" height="4" rx="1" stroke="#2a2a2a" stroke-width="1" fill="none"/>
<rect x="524.8" y="329.2" width="10.4" height="4" rx="1" stroke="#2a2a2a" stroke-width="1" fill="none"/>
<line x1="506.9" y1="329.2" x2="506.9" y2="333.2" stroke="#2a2a2a" stroke-width="0.8"/>
<line x1="530" y1="329.2" x2="530" y2="333.2" stroke="#2a2a2a" stroke-width="0.8"/>
<rect x="546.6" y="166.4" width="25.4" height="138" rx="2.5" stroke="#2a2a2a" stroke-width="1.4" fill="#fff"/>
<line x1="556.8" y1="166.4" x2="556.8" y2="304.4" stroke="#2a2a2a" stroke-width="1"/>
<line x1="560.1" y1="166.4" x2="560.1" y2="304.4" stroke="#2a2a2a" stroke-width="1"/>
<rect x="538.7" y="172.5" width="5.6" height="10" rx="1" stroke="#2a2a2a" stroke-width="1.4" fill="none"/>
<line x1="538.7" y1="175.8" x2="544.3" y2="175.8" stroke="#2a2a2a" stroke-width="0.9"/>
<line x1="538.7" y1="179.2" x2="544.3" y2="179.2" stroke="#2a2a2a" stroke-width="0.9"/>
<line x1="540.6" y1="173.0" x2="540.6" y2="182.0" stroke="#2a2a2a" stroke-width="0.9"/>
<path d="M544.3,174.0 L546.4,171.5 M544.3,181.0 L546.4,183.5" stroke="#2a2a2a" stroke-width="0.9" fill="none"/>
<rect x="538.7" y="194.5" width="5.6" height="10" rx="1" stroke="#2a2a2a" stroke-width="1.4" fill="none"/>
<line x1="538.7" y1="197.8" x2="544.3" y2="197.8" stroke="#2a2a2a" stroke-width="0.9"/>
<line x1="538.7" y1="201.2" x2="544.3" y2="201.2" stroke="#2a2a2a" stroke-width="0.9"/>
<line x1="540.6" y1="195.0" x2="540.6" y2="204.0" stroke="#2a2a2a" stroke-width="0.9"/>
<path d="M544.3,196.0 L546.4,193.5 M544.3,203.0 L546.4,205.5" stroke="#2a2a2a" stroke-width="0.9" fill="none"/>
<rect x="538.7" y="229" width="5.6" height="10" rx="1" stroke="#2a2a2a" stroke-width="1.4" fill="none"/>
<line x1="538.7" y1="232.3" x2="544.3" y2="232.3" stroke="#2a2a2a" stroke-width="0.9"/>
<line x1="538.7" y1="235.7" x2="544.3" y2="235.7" stroke="#2a2a2a" stroke-width="0.9"/>
<line x1="540.6" y1="229.5" x2="540.6" y2="238.5" stroke="#2a2a2a" stroke-width="0.9"/>
<path d="M544.3,230.5 L546.4,228 M544.3,237.5 L546.4,240" stroke="#2a2a2a" stroke-width="0.9" fill="none"/>
<rect x="538.7" y="264.5" width="5.6" height="10" rx="1" stroke="#2a2a2a" stroke-width="1.4" fill="none"/>
<line x1="538.7" y1="267.8" x2="544.3" y2="267.8" stroke="#2a2a2a" stroke-width="0.9"/>
<line x1="538.7" y1="271.2" x2="544.3" y2="271.2" stroke="#2a2a2a" stroke-width="0.9"/>
<line x1="540.6" y1="265.0" x2="540.6" y2="274.0" stroke="#2a2a2a" stroke-width="0.9"/>
<path d="M544.3,266.0 L546.4,263.5 M544.3,273.0 L546.4,275.5" stroke="#2a2a2a" stroke-width="0.9" fill="none"/>
<rect x="538.7" y="287" width="5.6" height="10" rx="1" stroke="#2a2a2a" stroke-width="1.4" fill="none"/>
<line x1="538.7" y1="290.3" x2="544.3" y2="290.3" stroke="#2a2a2a" stroke-width="0.9"/>
<line x1="538.7" y1="293.7" x2="544.3" y2="293.7" stroke="#2a2a2a" stroke-width="0.9"/>
<line x1="540.6" y1="287.5" x2="540.6" y2="296.5" stroke="#2a2a2a" stroke-width="0.9"/>
<path d="M544.3,288.5 L546.4,286 M544.3,295.5 L546.4,298" stroke="#2a2a2a" stroke-width="0.9" fill="none"/>
<path d="M571.6,168 Q574.5,172 576,179 L589.2,187.8" stroke="#2a2a2a" stroke-width="1" fill="none"/>
<path d="M573.5,182 Q580,185 589.2,191.5" stroke="#2a2a2a" stroke-width="1" fill="none"/>
<path d="M572.5,194.5 Q577.5,197.5 576.5,201.75 Q576,207 572.5,209" stroke="#2a2a2a" stroke-width="1.1" fill="none"/>
<path d="M573.8,197.5 Q575.5,201.75 573.8,206" stroke="#2a2a2a" stroke-width="0.8" fill="none"/>
<path d="M572.5,230 Q577.5,233 576.5,236.5 Q576,241 572.5,243" stroke="#2a2a2a" stroke-width="1.1" fill="none"/>
<path d="M573.8,233 Q575.5,236.5 573.8,240" stroke="#2a2a2a" stroke-width="0.8" fill="none"/>
<path d="M572.5,262 Q577.5,265 576.5,267.5 Q576,271 572.5,273" stroke="#2a2a2a" stroke-width="1.1" fill="none"/>
<path d="M573.8,265 Q575.5,267.5 573.8,270" stroke="#2a2a2a" stroke-width="0.8" fill="none"/>
<path d="M572.5,287.2 Q577.5,290.2 576.5,292.6 Q576,296 572.5,298" stroke="#2a2a2a" stroke-width="1.1" fill="none"/>
<path d="M573.8,290.2 Q575.5,292.6 573.8,295" stroke="#2a2a2a" stroke-width="0.8" fill="none"/>
<path d="M575.1,280 Q578,272 587.7,269.1" stroke="#2a2a2a" stroke-width="1.1" fill="none"/>
<path d="M575.5,286.3 L587.7,283.4" stroke="#2a2a2a" stroke-width="1" fill="none"/>
<path d="M573.4,289.7 Q578,285.5 587.7,284.2" stroke="#2a2a2a" stroke-width="1" fill="none"/>
<line x1="588.6" y1="270" x2="588.6" y2="284" stroke="#2a2a2a" stroke-width="1.3"/>
<path d="M509,346.6 L509,370.3 L549,370.3 L549,348" stroke="#2a2a2a" stroke-width="1" fill="none"/>
<path d="M509.9,347 L509.9,357.4 L514.2,361.6 L544.3,361.6" stroke="#2a2a2a" stroke-width="1.6" fill="none"/>
<path d="M509.9,357.4 L536.8,357.4" stroke="#2a2a2a" stroke-width="1" fill="none"/>
<line x1="514.2" y1="361.6" x2="514.2" y2="370" stroke="#2a2a2a" stroke-width="1"/>
<line x1="525.5" y1="361.6" x2="525.5" y2="370" stroke="#2a2a2a" stroke-width="1"/>
<line x1="533" y1="361.6" x2="533" y2="370" stroke="#2a2a2a" stroke-width="1"/>
<line x1="544.3" y1="361.6" x2="544.3" y2="370" stroke="#2a2a2a" stroke-width="1"/>
<path d="M536.3,361.6 L536.3,341 Q536.3,336.6 541,336.6 L546,336.6 Q551,336.6 551,342 L551,347 L549,350" stroke="#2a2a2a" stroke-width="1" fill="none"/>
<path d="M539,359 L538.5,343 Q539,339 541.5,339 M547,340 Q549.5,343 546,360 L544,361" stroke="#2a2a2a" stroke-width="1.3" fill="none"/>
<ellipse cx="529.7" cy="359.7" rx="6.3" ry="1.8" fill="#111"/></g>
<path d="M588.8,271 L588.8,193 Q588.8,189.2 592.8,189.2 L635,189.2 Q639,189.2 639,193 L639,271" stroke="#111" stroke-width="1.4" fill="none" />
<line x1="591" y1="192" x2="636.5" y2="192" stroke="#111" stroke-width="1.1"/>
<line x1="595.2" y1="192" x2="595.2" y2="271.5" stroke="#111" stroke-width="1.5"/>
<line x1="632.4" y1="192" x2="632.4" y2="271.5" stroke="#111" stroke-width="1.5"/>
<line x1="603.9" y1="192" x2="603.9" y2="259.7" stroke="#555" stroke-width="1"/>
<line x1="623.9" y1="192" x2="623.9" y2="259.7" stroke="#555" stroke-width="1"/>
<line x1="588.8" y1="259.6" x2="639" y2="259.6" stroke="#111" stroke-width="1"/>
<line x1="595.4" y1="271.5" x2="632.2" y2="271.5" stroke="#111" stroke-width="1"/>
<circle cx="593" cy="194" r="3.5" stroke="none" stroke-width="0" fill="#111"/>
<circle cx="593" cy="194" r="1.1" stroke="none" stroke-width="0" fill="#fff"/>
<circle cx="593" cy="213.9" r="3.5" stroke="none" stroke-width="0" fill="#111"/>
<circle cx="593" cy="213.9" r="1.1" stroke="none" stroke-width="0" fill="#fff"/>
<circle cx="593" cy="256.8" r="3.5" stroke="none" stroke-width="0" fill="#111"/>
<circle cx="593" cy="256.8" r="1.1" stroke="none" stroke-width="0" fill="#fff"/>
<circle cx="634.8" cy="194" r="3.5" stroke="none" stroke-width="0" fill="#111"/>
<circle cx="634.8" cy="194" r="1.1" stroke="none" stroke-width="0" fill="#fff"/>
<circle cx="634.8" cy="213.9" r="3.5" stroke="none" stroke-width="0" fill="#111"/>
<circle cx="634.8" cy="213.9" r="1.1" stroke="none" stroke-width="0" fill="#fff"/>
<circle cx="634.8" cy="256.8" r="3.5" stroke="none" stroke-width="0" fill="#111"/>
<circle cx="634.8" cy="256.8" r="1.1" stroke="none" stroke-width="0" fill="#fff"/>
<circle cx="614.1" cy="235.5" r="11.3" stroke="#2a2a2a" stroke-width="1.2" fill="none"/>
<circle cx="614.1" cy="235.5" r="4.8" stroke="#111" stroke-width="2.4" fill="none"/>
<line x1="614.5" y1="220.4" x2="614.5" y2="250.6" stroke="#111" stroke-width="0.9"/>
<path d="M602.5,260 L602.5,271 M625.6,260 L625.6,271" stroke="#111" stroke-width="1" fill="none" />
<rect x="605.3" y="263" width="17.4" height="7.5" rx="0" stroke="#666" stroke-width="1" fill="none"/>
<rect x="606" y="267" width="16" height="3.5" rx="0" stroke="none" stroke-width="0" fill="#888"/>
<rect x="596.3" y="271.9" width="7" height="4.5" rx="1" stroke="#2a2a2a" stroke-width="1" fill="none"/>
<rect x="624.6" y="271.9" width="7" height="4.5" rx="1" stroke="#2a2a2a" stroke-width="1" fill="none"/>
<line x1="576" y1="279.9" x2="652" y2="279.9" stroke="#111" stroke-width="1"/>
<path d="M604,281 Q611,284 618,281" stroke="#111" stroke-width="1.2" fill="none" />
<text x="594.6" y="168.8" font-size="14.2" fill="#111" textLength="44.4" lengthAdjust="spacingAndGlyphs">Выход</text>
<text x="581.4" y="180.3" font-size="14.2" fill="#111" textLength="63.6" lengthAdjust="spacingAndGlyphs">жидкости</text>
<text x="599.8" y="296.8" font-size="14.2" fill="#111" textLength="32.2" lengthAdjust="spacingAndGlyphs">Вход</text>
<text x="583" y="308.5" font-size="14.2" fill="#111" textLength="63.3" lengthAdjust="spacingAndGlyphs">жидкости</text>
<circle cx="614.2" cy="138.2" r="18.3" stroke="#2a2a2a" stroke-width="2.9" fill="none"/>
<circle cx="614.2" cy="138.2" r="14.9" stroke="#2a2a2a" stroke-width="0.9" fill="none"/>
<circle cx="614.2" cy="138.2" r="12.5" stroke="#2a2a2a" stroke-width="0.9" fill="none"/>
<circle cx="614.2" cy="138.2" r="9.7" stroke="#111" stroke-width="2.3" fill="none"/>
<line x1="614.5" y1="119.19999999999999" x2="614.5" y2="157.2" stroke="#111" stroke-width="0.9"/>
<circle cx="614.2" cy="330.6" r="18.3" stroke="#2a2a2a" stroke-width="2.9" fill="none"/>
<circle cx="614.2" cy="330.6" r="14.9" stroke="#2a2a2a" stroke-width="0.9" fill="none"/>
<circle cx="614.2" cy="330.6" r="12.5" stroke="#2a2a2a" stroke-width="0.9" fill="none"/>
<circle cx="614.2" cy="330.6" r="9.7" stroke="#111" stroke-width="2.3" fill="none"/>
<line x1="614.5" y1="311.6" x2="614.5" y2="349.6" stroke="#111" stroke-width="0.9"/>
</svg></body></html>
